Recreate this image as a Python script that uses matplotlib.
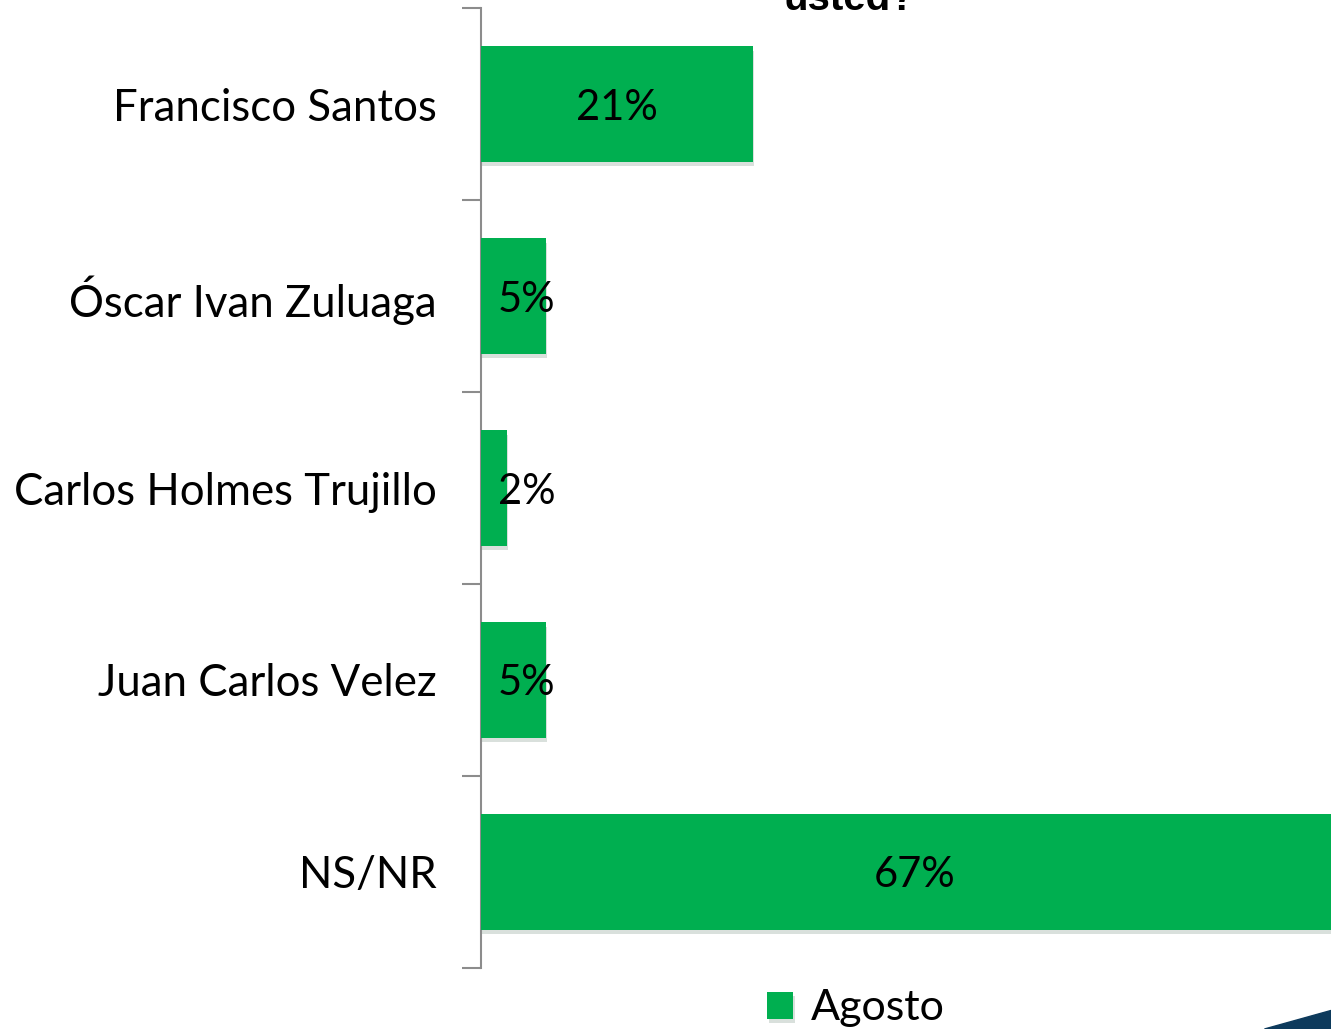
import matplotlib
matplotlib.use("Agg")
import matplotlib.pyplot as plt
import matplotlib.patheffects as pe
from matplotlib.patches import Polygon
import numpy as np

plt.rcParams['font.family'] = ['Lato', 'DejaVu Sans']

candidatos = ["Francisco Santos", "Óscar Ivan Zuluaga", "Carlos Holmes Trujillo",
              "Juan Carlos Velez", "NS/NR"]
agosto = [21, 5, 2, 5, 67]
serie = "Agosto"
verde = "#00AF50"

fig = plt.figure(figsize=(13.31, 10.29), dpi=100)
# the plot area runs past the right edge, like the cropped slide
ax = fig.add_axes([0.3614, 0.0593, 0.681, 0.9329])

y = np.arange(len(candidatos))
bars = ax.barh(y, agosto, height=0.6, color=verde, label=serie, zorder=3)
for b in bars:
    b.set_path_effects([pe.SimplePatchShadow(offset=(1, -3), alpha=0.15), pe.Normal()])

for yi, v in zip(y, agosto):
    if v < 10:
        ax.text(1.3, yi, f"{v}%", ha='left', va='center_baseline', fontsize=30,
                color='black', zorder=4)
    else:
        ax.text(v / 2, yi, f"{v}%", ha='center', va='center_baseline', fontsize=30,
                color='black', zorder=4)

ax.set_xlim(0, 70)
ax.set_ylim(len(candidatos) - 0.5, -0.5)
ax.set_yticks(y)
ax.set_yticklabels(candidatos, fontsize=31.5)
ax.set_yticks(np.arange(-0.5, len(candidatos)), minor=True)
ax.tick_params(axis='y', which='major', length=0, pad=32)
ax.tick_params(axis='y', which='minor', length=14, width=1.5, color='#8c8c8c')
ax.set_xticks([])
for s in ['top', 'right', 'bottom']:
    ax.spines[s].set_visible(False)
ax.spines['left'].set_color('#8c8c8c')
ax.spines['left'].set_linewidth(1.5)

fig.legend(handles=[bars], labels=[serie], loc='center', bbox_to_anchor=(0.643, 0.02),
           frameon=False, fontsize=31, handlelength=0.6, handleheight=0.6, handletextpad=0.4)

# title cut off at the top of the slide
fig.text(0.638, 0.990, "usted?", ha='center', va='baseline', fontsize=29,
         fontweight='bold', family=['Liberation Sans', 'DejaVu Sans'])

# corner of the slide decoration
fig.patches.append(Polygon([[0.950, 0.0], [1.0, 0.018], [1.0, 0.0]], closed=True,
                           transform=fig.transFigure, color='#0d3a5c'))

fig.savefig("out.png", dpi=100)
